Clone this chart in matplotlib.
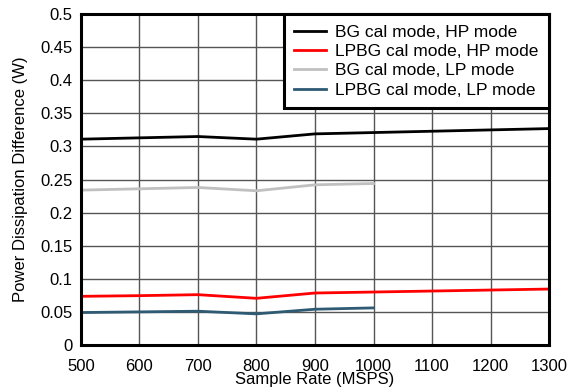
import matplotlib
matplotlib.use('Agg')
import matplotlib.pyplot as plt

plt.rcParams['font.family'] = ['Liberation Sans', 'DejaVu Sans']

# Sample rates (MSPS)
rate_hp = [500, 600, 700, 800, 900, 1000, 1100, 1200, 1300]
rate_lp = [500, 600, 700, 800, 900, 1000]

# Power dissipation difference (W)
bg_hp = [0.311, 0.313, 0.315, 0.311, 0.319, 0.321, 0.323, 0.325, 0.327]
lpbg_hp = [0.0735, 0.0745, 0.076, 0.0705, 0.0785, 0.080, 0.0815, 0.083, 0.0845]
bg_lp = [0.234, 0.236, 0.238, 0.233, 0.242, 0.244]
lpbg_lp = [0.049, 0.050, 0.051, 0.047, 0.054, 0.056]

fig = plt.figure(figsize=(5.86, 3.92), dpi=100)
ax = fig.add_axes([0.138, 0.120, 0.799, 0.844])

ax.plot(rate_hp, bg_hp, color='black', lw=2, label='BG cal mode, HP mode')
ax.plot(rate_hp, lpbg_hp, color='#ff0000', lw=2, label='LPBG cal mode, HP mode')
ax.plot(rate_lp, bg_lp, color='#c0c0c0', lw=2, label='BG cal mode, LP mode')
ax.plot(rate_lp, lpbg_lp, color='#2e5a73', lw=2, label='LPBG cal mode, LP mode')

ax.set_xlim(500, 1300)
ax.set_ylim(0, 0.5)
ax.set_xticks(range(500, 1301, 100))
ax.set_yticks([i * 0.05 for i in range(11)])
ax.set_yticklabels(['0', '0.05', '0.1', '0.15', '0.2', '0.25', '0.3', '0.35', '0.4', '0.45', '0.5'])
ax.tick_params(labelsize=12, length=0)
ax.tick_params(axis='x', pad=10)
ax.tick_params(axis='y', pad=6)
ax.grid(True, color='#555555', lw=1)
for s in ax.spines.values():
    s.set_linewidth(2.2)
    s.set_color('black')

ax.set_xlabel('Sample Rate (MSPS)', fontsize=12, labelpad=-1)
ax.set_ylabel('Power Dissipation Difference (W)', fontsize=12, labelpad=9)

leg = ax.legend(loc='upper right', fontsize=12.5, fancybox=False, framealpha=1,
                edgecolor='black', borderaxespad=0, handlelength=1.85,
                labelspacing=0.24, borderpad=0.6, handletextpad=0.52)
leg.get_frame().set_linewidth(2.2)

plt.savefig('out.png', dpi=100)
